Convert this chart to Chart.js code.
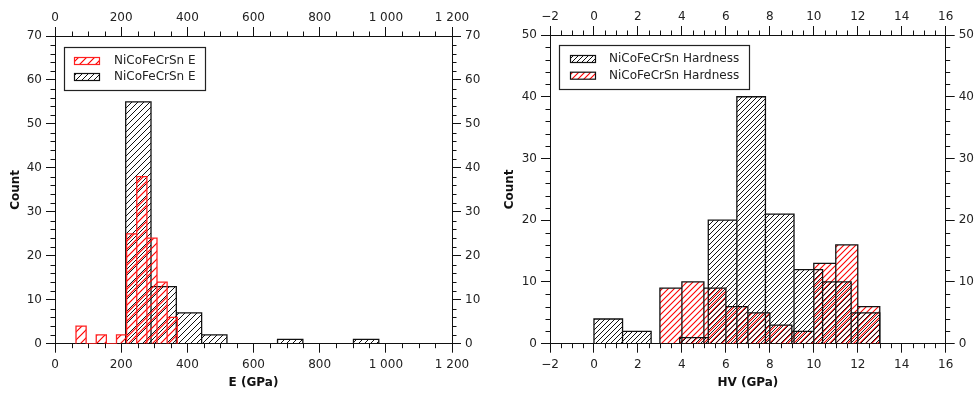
<!DOCTYPE html>
<html><head><meta charset="utf-8">
<script src="https://cdn.jsdelivr.net/npm/chart.js@4"></script>
<style>
html,body{margin:0;padding:0;background:#fff;}
#wrap{position:relative;width:978px;height:396px;overflow:hidden;}
.c{position:absolute;top:0;width:489px;height:396px;}
</style></head><body>
<div id="wrap">
<div class="c" style="left:0"><canvas id="c1" width="489" height="396"></canvas></div>
<div class="c" style="left:489px"><canvas id="c2" width="489" height="396"></canvas></div>
</div>
<script>
// ---- data (bin edges and counts) ----
const eRedLabel = 'NiCoFeCrSn E';
const eRedEdges = [63.5, 94.1, 124.7, 155.3, 185.9, 216.5, 247.1, 277.7, 308.3, 338.9, 369.5];
const eRedCounts = [4, 0, 2, 0, 2, 25, 38, 24, 14, 6];
const eBlackLabel = 'NiCoFeCrSn E';
const eBlackEdges = [213.7, 290.2, 366.7, 443.2, 519.7, 596.2, 672.7, 749.2, 825.7, 902.2, 978.7];
const eBlackCounts = [55, 13, 7, 2, 0, 0, 1, 0, 0, 1];

const hvBlackLabel = 'NiCoFeCrSn Hardness';
const hvBlackEdges = [0, 1.3, 2.6, 3.9, 5.2, 6.5, 7.8, 9.1, 10.4, 11.7, 13.0];
const hvBlackCounts = [4, 2, 0, 1, 20, 40, 21, 12, 10, 5];
const hvRedLabel = 'NiCoFeCrSn Hardness';
const hvRedEdges = [3, 4, 5, 6, 7, 8, 9, 10, 11, 12, 13];
const hvRedCounts = [9, 10, 9, 6, 5, 3, 2, 13, 16, 6];

const eAxis = {min: 0, max: 1200, major: 200, minor: 50, title: 'E (GPa)'};
const hvAxis = {min: -2, max: 16, major: 2, minor: 0.5, title: 'HV (GPa)'};
const eCountAxis = {min: 0, max: 70, major: 10, minor: 2, title: 'Count'};
const hvCountAxis = {min: 0, max: 50, major: 10, minor: 2, title: 'Count'};

// ---- helpers ----
Chart.defaults.font.family = '"DejaVu Sans", sans-serif';
Chart.defaults.font.size = 12;
Chart.defaults.color = '#222';

function histPoints(edges, counts) {
  const pts = [];
  for (let i = 0; i < counts.length; i++) {
    pts.push({x: edges[i], y: 0}, {x: edges[i], y: counts[i]},
             {x: edges[i + 1], y: counts[i]}, {x: edges[i + 1], y: 0});
  }
  return pts;
}
function hatch(ctx, color, s, w) {
  const c = document.createElement('canvas');
  c.width = s; c.height = s;
  const g = c.getContext('2d');
  g.strokeStyle = color; g.lineWidth = w || 1;
  g.beginPath();
  g.moveTo(0, s); g.lineTo(s, 0);
  g.moveTo(-2, 2); g.lineTo(2, -2);
  g.moveTo(s - 2, s + 2); g.lineTo(s + 2, s - 2);
  g.stroke();
  return ctx.createPattern(c, 'repeat');
}
function fmt(v) {
  const r = Math.round(v * 1000) / 1000;
  const neg = r < 0;
  let s = Math.abs(r).toString();
  s = s.replace(/\B(?=(\d{3})+(?!\d))/g, ' ');
  return (neg ? '\u2212' : '') + s;
}

const decor = {
  id: 'decor',
  afterDraw(chart, args, opts) {
    const ctx = chart.ctx, ca = chart.chartArea;
    ctx.save();
    ctx.strokeStyle = '#111'; ctx.lineWidth = 1;
    ctx.beginPath();
    for (const id of Object.keys(opts.minor)) {
      const sc = chart.scales[id];
      const m = opts.minor[id].minor, M = opts.minor[id].major;
      for (let k = 0; ; k++) {
        const v = sc.min + k * m;
        if (v > sc.max + 1e-9) break;
        const q = (v - sc.min) / M;
        if (Math.abs(q - Math.round(q)) < 1e-6) continue;
        const p = Math.round(sc.getPixelForValue(v)) + 0.5;
        const L = 4.5;
        if (sc.position === 'bottom') { ctx.moveTo(p, ca.bottom); ctx.lineTo(p, ca.bottom + L); }
        else if (sc.position === 'top') { ctx.moveTo(p, ca.top); ctx.lineTo(p, ca.top - L); }
        else if (sc.position === 'left') { ctx.moveTo(ca.left, p); ctx.lineTo(ca.left - L, p); }
        else { ctx.moveTo(ca.right, p); ctx.lineTo(ca.right + L, p); }
      }
    }
    ctx.stroke();
    // legend box
    const Lg = opts.legend;
    ctx.fillStyle = '#fff';
    ctx.fillRect(Lg.x, Lg.y, Lg.w, Lg.h);
    ctx.strokeStyle = '#222'; ctx.lineWidth = 1.2;
    ctx.strokeRect(Lg.x + 0.5, Lg.y + 0.5, Lg.w, Lg.h);
    chart.data.datasets.forEach((ds, i) => {
      const cy = Lg.rows[i];
      ctx.fillStyle = '#fff';
      ctx.fillRect(Lg.sx, cy - 3.5, Lg.sw, 7);
      ctx.fillStyle = ds.backgroundColor;
      ctx.fillRect(Lg.sx, cy - 3.5, Lg.sw, 7);
      ctx.strokeStyle = ds.borderColor; ctx.lineWidth = 1.2;
      ctx.strokeRect(Lg.sx + 0.5, cy - 3.5, Lg.sw, 7);
      ctx.fillStyle = '#222';
      ctx.font = '12px "DejaVu Sans", sans-serif';
      ctx.textBaseline = 'middle'; ctx.textAlign = 'left';
      ctx.fillText(ds.label, Lg.tx, cy);
    });
    ctx.restore();
  }
};

function scales(xa, ya, sz) {
  const common = (a, pos, size, horiz, showTitle, titlePad, tickPad) => ({
    type: 'linear', position: pos, axis: horiz ? 'x' : 'y',
    min: a.min, max: a.max,
    ticks: {stepSize: a.major, padding: tickPad, callback: v => fmt(v), color: '#222', maxRotation: 0, autoSkip: false,
            font: {size: 12}},
    grid: {display: true, drawOnChartArea: false, drawTicks: true, tickLength: 9, tickColor: '#111', tickWidth: 1},
    border: {display: true, color: '#111', width: 1},
    title: {display: showTitle, text: a.title, color: '#111', font: {size: 12, weight: 'bold'}, padding: titlePad},
    afterFit: s => { if (horiz) s.height = size; else s.width = size; }
  });
  return {
    x: common(xa, 'bottom', sz.bottom, true, true, {top: 0, bottom: 6}, 5),
    xTop: common(xa, 'top', sz.top, true, false, 0, 2),
    y: common(ya, 'left', sz.left, false, true, {top: sz.titlePad, bottom: 0}, 4),
    yRight: common(ya, 'right', sz.right, false, false, 0, 4)
  };
}

function minorCfg(xa, ya) {
  return {x: xa, xTop: xa, y: ya, yRight: ya};
}

function dataset(label, edges, counts, line, pattern) {
  return {
    label, data: histPoints(edges, counts),
    borderColor: line, borderWidth: 1.3, backgroundColor: pattern,
    fill: 'origin', pointRadius: 0, pointHoverRadius: 0, tension: 0,
    xAxisID: 'x', yAxisID: 'y'
  };
}

// ---- chart 1 ----
const ctx1 = document.getElementById('c1').getContext('2d');
new Chart(ctx1, {
  type: 'line',
  data: {datasets: [
    dataset(eRedLabel, eRedEdges, eRedCounts, '#ff2020', hatch(ctx1, '#ff0000', 8, 1.2)),
    dataset(eBlackLabel, eBlackEdges, eBlackCounts, '#111', hatch(ctx1, '#111', 6))
  ]},
  options: {
    responsive: false, animation: false, events: [],
    layout: {padding: 0},
    scales: scales(eAxis, eCountAxis, {bottom: 52.3, top: 36, left: 55, right: 37, titlePad: 9}),
    plugins: {
      legend: {display: false}, tooltip: {enabled: false},
      decor: {minor: minorCfg(eAxis, eCountAxis),
              legend: {x: 64, y: 47, w: 141, h: 43, rows: [61, 77], sx: 74, sw: 25, tx: 114}}
    }
  },
  plugins: [decor]
});

// ---- chart 2 ----
const ctx2 = document.getElementById('c2').getContext('2d');
new Chart(ctx2, {
  type: 'line',
  data: {datasets: [
    dataset(hvBlackLabel, hvBlackEdges, hvBlackCounts, '#111', hatch(ctx2, '#111', 5)),
    dataset(hvRedLabel, hvRedEdges, hvRedCounts, '#111', hatch(ctx2, '#ff0000', 6, 1.1))
  ]},
  options: {
    responsive: false, animation: false, events: [],
    layout: {padding: 0},
    scales: scales(hvAxis, hvCountAxis, {bottom: 52.3, top: 35, left: 61, right: 32.3, titlePad: 14}),
    plugins: {
      legend: {display: false}, tooltip: {enabled: false},
      decor: {minor: minorCfg(hvAxis, hvCountAxis),
              legend: {x: 70, y: 45, w: 190, h: 44, rows: [59, 75.7], sx: 81, sw: 25, tx: 120}}
    }
  },
  plugins: [decor]
});
</script>
</body></html>
